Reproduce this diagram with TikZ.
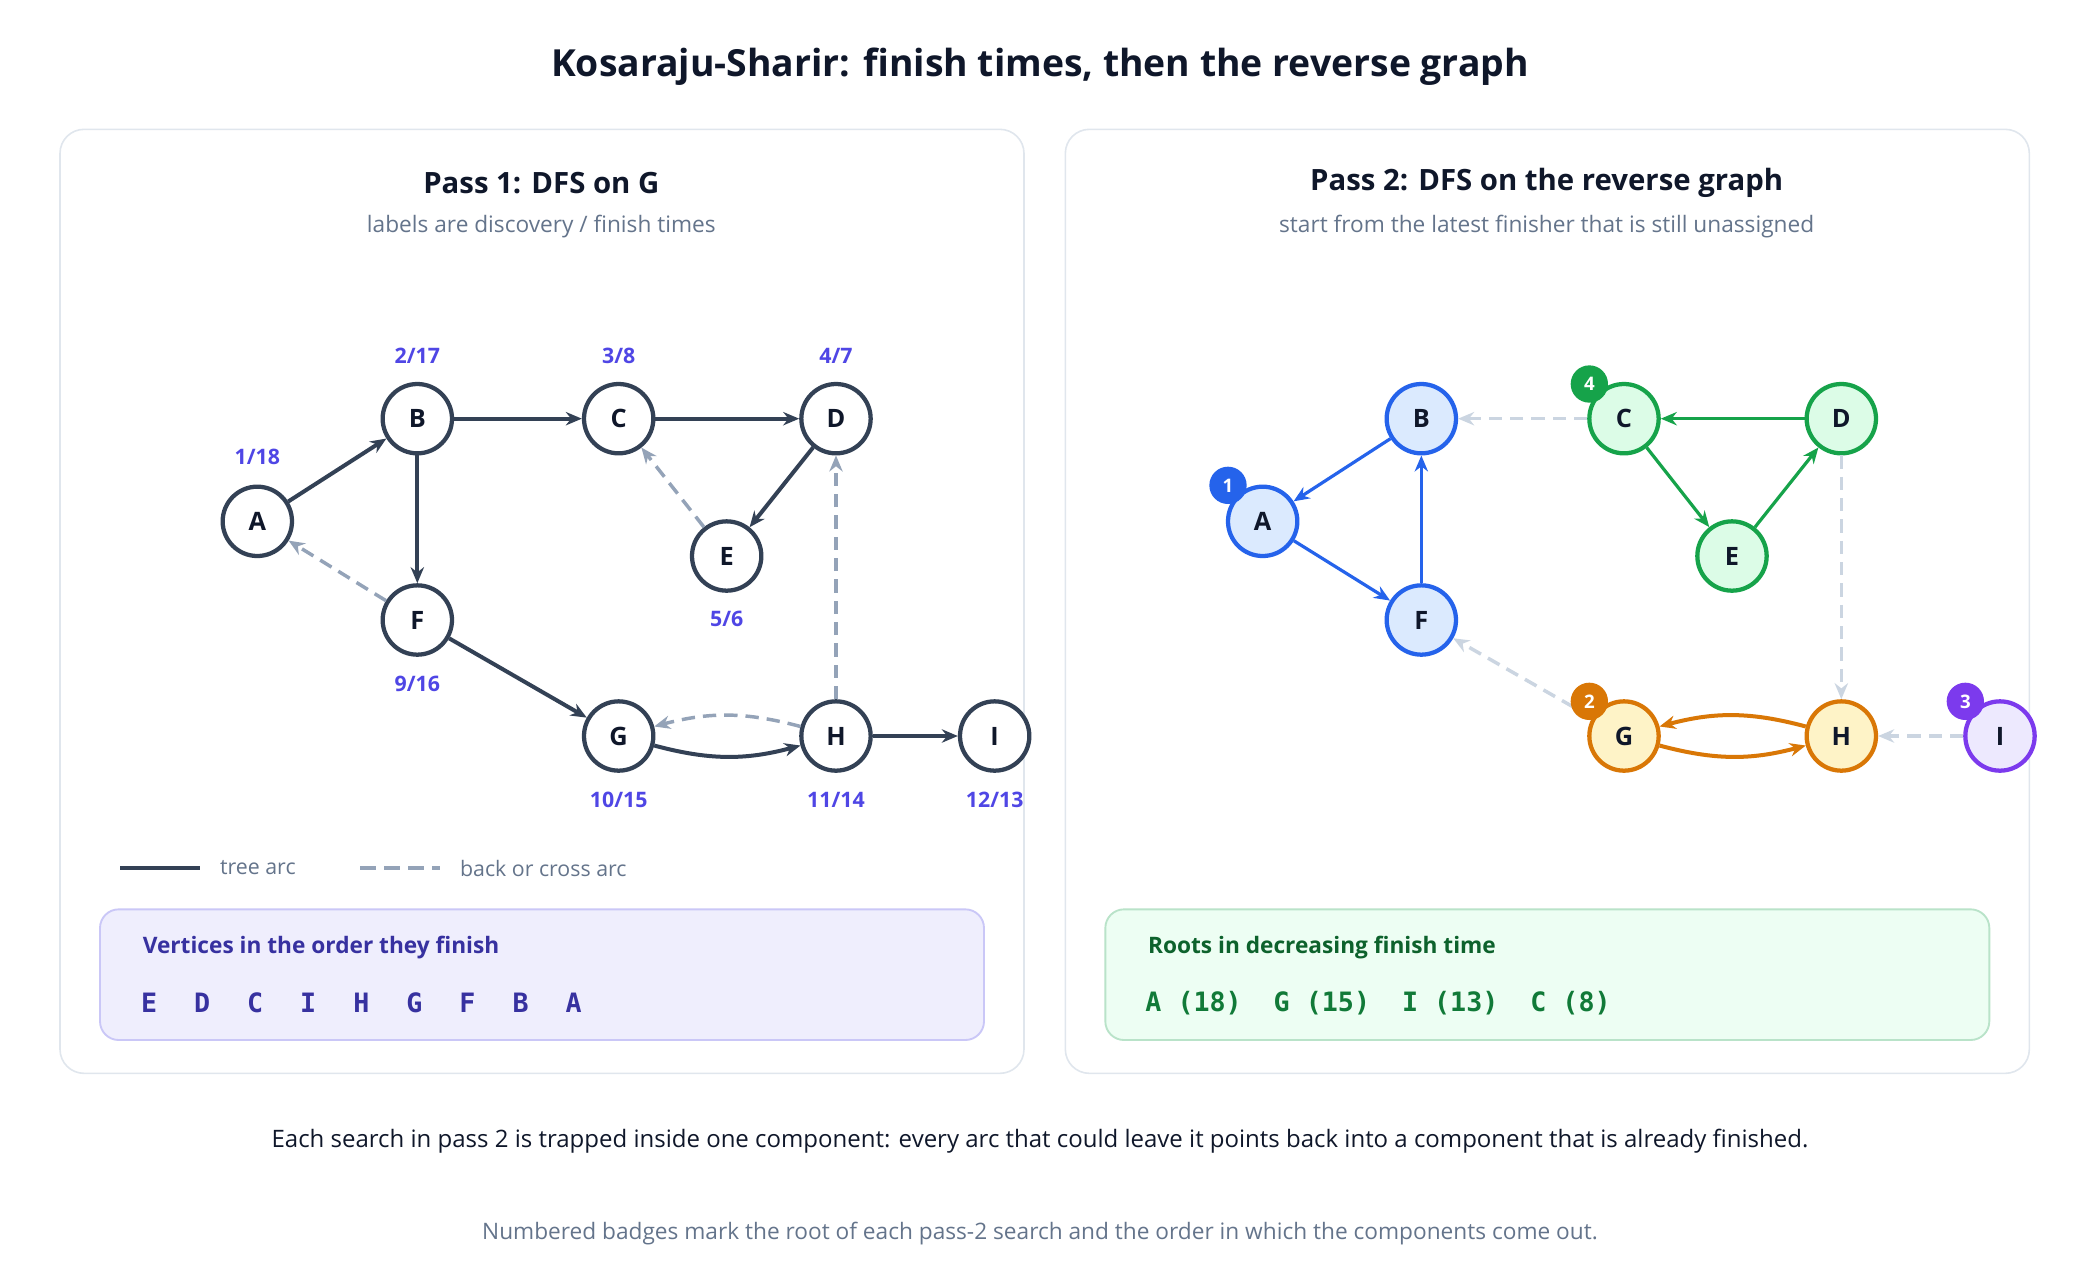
\documentclass[tikz,border=0pt]{standalone}
\usepackage{fontspec}
\setmainfont{Open Sans}
\newfontfamily\monofont{DejaVu Sans Mono}
\usetikzlibrary{arrows.meta}
\definecolor{ink}{HTML}{0F172A}
\definecolor{slate}{HTML}{334155}
\definecolor{muted}{HTML}{64748B}
\definecolor{dashc}{HTML}{94A3B8}
\definecolor{light}{HTML}{CBD5E1}
\definecolor{indigo}{HTML}{4F46E5}
\definecolor{bluS}{HTML}{2563EB}\definecolor{bluF}{HTML}{DBEAFE}
\definecolor{grnS}{HTML}{16A34A}\definecolor{grnF}{HTML}{DCFCE7}
\definecolor{orgS}{HTML}{D97706}\definecolor{orgF}{HTML}{FEF3C7}
\definecolor{purS}{HTML}{7C3AED}\definecolor{purF}{HTML}{EDE9FE}
\tikzset{
 vtx/.style={circle,draw=#1,line width=1.6pt,minimum size=26pt,inner sep=0pt,font=\fontsize{9.5}{10}\selectfont\bfseries,text=ink},
 tree/.style={draw=slate,line width=1.5pt,-{Stealth[length=6pt,width=5pt]}},
 back/.style={draw=dashc,line width=1.3pt,dash pattern=on 5pt off 3pt,-{Stealth[length=6pt,width=5pt]}},
 pale/.style={draw=light,line width=1.3pt,dash pattern=on 5pt off 3pt,-{Stealth[length=6pt,width=5pt]}},
 arc/.style={draw=#1,line width=1.2pt,-{Stealth[length=6pt,width=5pt]}},
 time/.style={font=\fontsize{8}{9}\selectfont\bfseries,text=indigo},
 badge/.style={circle,fill=#1,minimum size=14pt,inner sep=0pt,text=white,font=\fontsize{7}{8}\selectfont\bfseries},
 panel/.style={draw=light!60,line width=0.6pt,rounded corners=9pt,fill=white},
}
\begin{document}
\begin{tikzpicture}[x=0.5pt,y=-0.5pt]
\useasboundingbox (0,0) rectangle (1560,960);
\node[font=\fontsize{14}{16}\selectfont\bfseries,text=ink] (title) at (780,50) {Kosaraju-Sharir: finish times, then the reverse graph};
\draw[panel] (45,97) rectangle (768,805);
\draw[panel] (799,97) rectangle (1522,805);
\node[font=\fontsize{11}{13}\selectfont\bfseries,text=ink] (t1) at (406,137) {Pass 1: DFS on G};
\node[font=\fontsize{8.5}{10}\selectfont,text=muted] (s1) at (406,170) {labels are discovery / finish times};
\node[font=\fontsize{11}{13}\selectfont\bfseries,text=ink] (t2) at (1160,137) {Pass 2: DFS on the reverse graph};
\node[font=\fontsize{8.5}{10}\selectfont,text=muted] (s2) at (1160,170) {start from the latest finisher that is still unassigned};

% pass 1
\foreach \n/\x/\y in {A/193/391,B/313/314,C/464/314,D/627/314,E/545/417,F/313/465,G/464/552,H/627/552,I/746/552}
  \node[vtx=slate,fill=white] (p\n) at (\x,\y) {\n};
\foreach \n/\x/\y/\t in {A/193/343/1\slash18,B/313/267/2\slash17,C/464/267/3\slash8,D/627/267/4\slash7,E/545/464/5\slash6,F/313/513/9\slash16,G/464/600/10\slash15,H/627/600/11\slash14,I/746/600/12\slash13}
  \node[time] (l\n) at (\x,\y) {\t};
\draw[tree] (pA) -- (pB);
\draw[tree] (pB) -- (pC);
\draw[tree] (pC) -- (pD);
\draw[tree] (pD) -- (pE);
\draw[tree] (pB) -- (pF);
\draw[tree] (pF) -- (pG);
\draw[tree] (pG) to[bend right=15] (pH);
\draw[tree] (pH) -- (pI);
\draw[back] (pE) -- (pC);
\draw[back] (pF) -- (pA);
\draw[back] (pH) to[bend right=15] (pG);
\draw[back] (pH) -- (pD);

% legend
\coordinate (k1) at (90,651); \coordinate (k2) at (150,651);
\coordinate (k3) at (270,651); \coordinate (k4) at (330,651);
\draw[slate,line width=1.6pt] (k1) -- (k2);
\draw[dashc,line width=1.6pt,dash pattern=on 6pt off 3pt] (k3) -- (k4);
\node[anchor=west,font=\fontsize{8}{9}\selectfont,text=muted] (kt) at (158,651) {tree arc};
\node[anchor=west,font=\fontsize{8}{9}\selectfont,text=muted] (kb) at (338,651) {back or cross arc};

\draw[draw=indigo!30,fill=indigo!9,line width=0.7pt,rounded corners=7pt] (75,682) rectangle (738,780);
\node[anchor=west,font=\fontsize{8.5}{10}\selectfont\bfseries,text=indigo!70!black] (ordt) at (100,711) {Vertices in the order they finish};
\foreach \n [count=\i] in {E,D,C,I,H,G,F,B,A}
  \node[font=\fontsize{10}{11}\monofont\bfseries,text=indigo!70!black] (o\i) at (72+39.8*\i,752) {\n};

% pass 2
\foreach \n/\x/\y/\c in {A/947/391/blu,B/1066/314/blu,F/1066/465/blu,C/1218/314/grn,D/1381/314/grn,E/1299/417/grn,G/1218/552/org,H/1381/552/org,I/1500/552/pur}
  \node[vtx=\c S,fill=\c F] (q\n) at (\x,\y) {\n};
\draw[arc=bluS] (qB) -- (qA);
\draw[arc=bluS] (qA) -- (qF);
\draw[arc=bluS] (qF) -- (qB);
\draw[arc=grnS] (qD) -- (qC);
\draw[arc=grnS] (qC) -- (qE);
\draw[arc=grnS] (qE) -- (qD);
\draw[arc=orgS,line width=1.5pt] (qG) to[bend right=15] (qH);
\draw[arc=orgS,line width=1.5pt] (qH) to[bend right=15] (qG);
\draw[pale] (qC) -- (qB);
\draw[pale] (qG) -- (qF);
\draw[pale] (qD) -- (qH);
\draw[pale] (qI) -- (qH);
\node[badge=bluS] (b1) at (921,364) {1};
\node[badge=orgS] (b2) at (1192,526) {2};
\node[badge=purS] (b3) at (1474,526) {3};
\node[badge=grnS] (b4) at (1192,288) {4};

\draw[draw=grnS!30,fill=grnF!50,line width=0.7pt,rounded corners=7pt] (829,682) rectangle (1492,780);
\node[anchor=west,font=\fontsize{8.5}{10}\selectfont\bfseries,text=grnS!60!black] (roott) at (854,711) {Roots in decreasing finish time};
\node[anchor=west,font=\fontsize{10}{11}\monofont\bfseries,text=grnS!75!black] (roots) at (852,752) {A (18)\hspace{12pt}G (15)\hspace{12pt}I (13)\hspace{12pt}C (8)};

\node[font=\fontsize{9}{11}\selectfont,text=ink] (note1) at (780,856) {Each search in pass 2 is trapped inside one component: every arc that could leave it points back into a component that is already finished.};
\node[font=\fontsize{8.5}{10}\selectfont,text=muted] (note2) at (780,925) {Numbered badges mark the root of each pass-2 search and the order in which the components come out.};
\end{tikzpicture}
\end{document}
